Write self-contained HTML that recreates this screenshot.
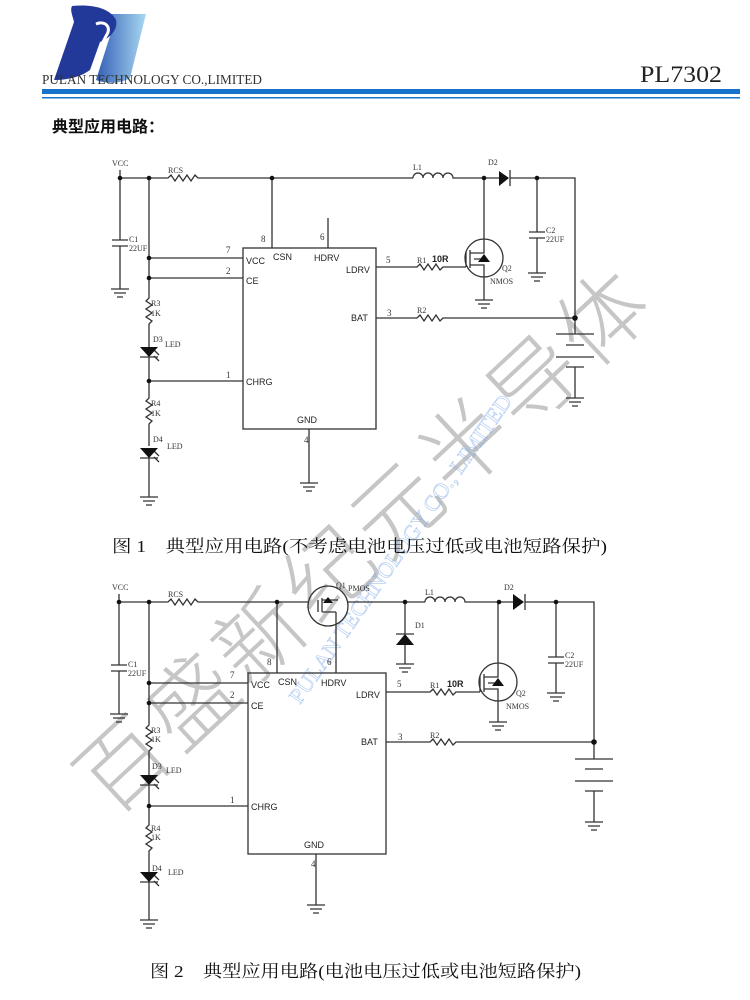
<!DOCTYPE html>
<html><head><meta charset="utf-8"><style>
html,body{margin:0;padding:0;background:#fff;}
body{width:750px;height:1000px;position:relative;overflow:hidden;}
svg{position:absolute;left:0;top:0;}
</style></head><body>
<svg width="750" height="1000" viewBox="0 0 750 1000" xmlns="http://www.w3.org/2000/svg">
<defs>
<linearGradient id="lg" x1="0" y1="0" x2="1" y2="0"><stop offset="0" stop-color="#2a55b0"/><stop offset="1" stop-color="#a8d8f2"/></linearGradient>
</defs>
<path d="M92,14 L146,14 L130,78 C120,84 106,84 96,80 L110,36 Z" fill="url(#lg)"/>
<path d="M72,6 C92,4 110,8 116,20 C118,30 110,38 100,42 L90,70 C82,76 70,80 54,80 L74,22 C72,14 70,10 72,6 Z" fill="#23399a"/>
<path d="M96,24 C106,20 112,28 106,36 L100,48" stroke="#fff" stroke-width="3" fill="none"/>
<text x="42" y="84" font-family="Liberation Serif,serif" font-size="14" fill="#333" textLength="220" lengthAdjust="spacingAndGlyphs">PULAN TECHNOLOGY CO.,LIMITED</text>
<text x="640" y="82" font-family="Liberation Serif,serif" font-size="23" fill="#222" textLength="82" lengthAdjust="spacingAndGlyphs">PL7302</text>
<rect x="42" y="89" width="698" height="5" fill="#1673c9"/>
<rect x="42" y="97" width="698" height="1.5" fill="#1673c9"/>
<text x="52" y="132" font-family="Liberation Sans,'Noto Sans CJK SC',sans-serif" font-size="16" font-weight="bold" fill="#111">典型应用电路：</text>

<g transform="translate(112,818) rotate(-43)">
<text x="0" y="0" font-family="'Noto Sans CJK SC',sans-serif" font-size="88" font-weight="300" fill="#c6c6c6" letter-spacing="-4" textLength="740" lengthAdjust="spacing">百盛新纪元半导体</text>
</g>
<g transform="translate(300,705) rotate(-55)" opacity="0.55">
<text x="0" y="0" font-family="Liberation Serif,serif" font-size="22" fill="none" stroke="#7aa5e6" stroke-width="0.7">PULAN TECHNOLOGY CO., LIMITED</text>
</g>

<g stroke="#333" stroke-width="1.3" fill="none" font-family="Liberation Serif,serif">
<path d="M120,178 H168 l3,-3 l4,6 l4,-6 l4,6 l4,-6 l4,6 l4,-6 l3,3 H413"/>
<path d="M413,178 a5,5 0 0 1 10,0 a5,5 0 0 1 10,0 a5,5 0 0 1 10,0 a5,5 0 0 1 10,0 H499"/>
<path d="M510,178 H575 V334"/>
<path d="M120,170 V240 M120,246 V289 M112,240 H128 M112,246 H128"/>
<path d="M111,289 H129 M114,293 H126 M117,297 H123"/>
<path d="M149,178 V298 l-3,3 l6,4 l-6,4 l6,4 l-6,4 l6,4 l-3,3 V347 M149,357 V398 l-3,3 l6,4 l-6,4 l6,4 l-6,4 l6,4 l-3,3 V446 M149,458 V497"/>
<path d="M140,497 H158 M143,501 H155 M146,505 H152"/>
<path d="M140,357 H158 M140,458 H158"/>
<path d="M154,350 l5,5 M154,356 l5,5 M154,451 l5,5 M154,457 l5,5"/>
<path d="M149,258 H243 M149,278 H243 M149,381 H243"/>
<rect x="243" y="248" width="133" height="181"/>
<path d="M272,178 V248 M328,218 V248 M309,429 V483"/>
<path d="M300,483 H318 M303,487 H315 M306,491 H312"/>
<path d="M376,267 H417 l3,-3 l4,6 l4,-6 l4,6 l4,-6 l4,6 l3,-3 H466"/>
<circle cx="484" cy="258" r="19"/>
<path d="M466,267 V252 M470,250 V268 M470,253 H484 V178 M470,265 H484 V300 M474,259 H484"/>
<path d="M475,300 H493 M478,304 H490 M481,308 H487"/>
<path d="M376,318 H417 l3,-3 l4,6 l4,-6 l4,6 l4,-6 l4,6 l3,-3 H575"/>
<path d="M556,334 H594 M566,345 H584 M556,357 H594 M566,367 H584 M575,367 V398 M566,398 H584 M569,402 H581 M572,406 H578"/>
<path d="M537,178 V232 M537,238 V273 M529,232 H545 M529,238 H545 M528,273 H546 M531,277 H543 M534,281 H540"/>
<path d="M510,170 V186"/>

<path d="M119,602 H168 l3,-3 l4,6 l4,-6 l4,6 l4,-6 l4,6 l4,-6 l3,3 H308 M348,602 H425"/>
<path d="M425,602 a5,5 0 0 1 10,0 a5,5 0 0 1 10,0 a5,5 0 0 1 10,0 a5,5 0 0 1 10,0 H513"/>
<path d="M525,602 H594 V759"/>
<circle cx="328" cy="606" r="20"/>
<path d="M318,600 V612 M322,598 V612 M322,600 H338 M336,612 V673 M322,612 H336"/>
<path d="M119,594 V665 M119,671 V714 M111,665 H127 M111,671 H127 M110,714 H128 M113,718 H125 M116,722 H122"/>
<path d="M149,602 V725 l-3,3 l6,4 l-6,4 l6,4 l-6,4 l6,4 l-3,3 V775 M149,785 V825 l-3,3 l6,4 l-6,4 l6,4 l-6,4 l6,4 l-3,3 V872 M149,882 V920"/>
<path d="M140,920 H158 M143,924 H155 M146,928 H152 M140,785 H158 M140,882 H158"/>
<path d="M154,778 l5,5 M154,784 l5,5 M154,875 l5,5 M154,881 l5,5"/>
<path d="M149,683 H248 M149,703 H248 M149,806 H248"/>
<rect x="248" y="673" width="138" height="181"/>
<path d="M277,602 V673 M316,854 V905 M307,905 H325 M310,909 H322 M313,913 H319"/>
<path d="M405,602 V634 M396,634 H414 M405,645 V664 M396,664 H414 M399,668 H411 M402,672 H408"/>
<path d="M386,692 H430 l3,-3 l4,6 l4,-6 l4,6 l4,-6 l4,6 l3,-3 H480"/>
<circle cx="498" cy="682" r="19"/>
<path d="M480,692 V676 M484,674 V692 M484,677 H498 V602 M484,689 H498 V722 M488,683 H498"/>
<path d="M489,722 H507 M492,726 H504 M495,730 H501"/>
<path d="M386,742 H430 l3,-3 l4,6 l4,-6 l4,6 l4,-6 l4,6 l3,-3 H594"/>
<path d="M575,759 H613 M585,769 H603 M575,781 H613 M585,791 H603 M594,791 V822 M585,822 H603 M588,826 H600 M591,830 H597"/>
<path d="M556,602 V657 M556,663 V693 M548,657 H564 M548,663 H564 M547,693 H565 M550,697 H562 M553,701 H559"/>
<path d="M525,594 V610"/>
</g>

<g fill="#111" stroke="none">
<polygon points="499,171 499,186 509,178"/>
<polygon points="140,347 158,347 149,357"/>
<polygon points="140,448 158,448 149,458"/>
<polygon points="513,594 513,610 524,602"/>
<polygon points="396,645 414,645 405,634"/>
<polygon points="140,775 158,775 149,785"/>
<polygon points="140,872 158,872 149,882"/>
<polygon points="328,597 333,603 323,603"/>
<polygon points="484,254 490,262 478,262"/>
<polygon points="498,678 504,686 492,686"/>
<circle cx="120" cy="178" r="2.3"/><circle cx="149" cy="178" r="2.3"/><circle cx="272" cy="178" r="2.3"/><circle cx="484" cy="178" r="2.3"/><circle cx="537" cy="178" r="2.3"/>
<circle cx="149" cy="258" r="2.3"/><circle cx="149" cy="278" r="2.3"/><circle cx="149" cy="381" r="2.3"/><circle cx="575" cy="318" r="2.8"/>
<circle cx="119" cy="602" r="2.3"/><circle cx="149" cy="602" r="2.3"/><circle cx="277" cy="602" r="2.3"/><circle cx="405" cy="602" r="2.3"/><circle cx="499" cy="602" r="2.3"/><circle cx="556" cy="602" r="2.3"/>
<circle cx="149" cy="683" r="2.3"/><circle cx="149" cy="703" r="2.3"/><circle cx="149" cy="806" r="2.3"/><circle cx="594" cy="742" r="2.8"/>
</g>

<g font-family="Liberation Serif,serif" font-size="8" fill="#333">
<text x="112" y="166">VCC</text><text x="168" y="173">RCS</text><text x="413" y="170">L1</text><text x="488" y="165">D2</text>
<text x="129" y="242">C1</text><text x="129" y="251">22UF</text><text x="546" y="233">C2</text><text x="546" y="242">22UF</text>
<text x="151" y="306">R3</text><text x="151" y="316">1K</text><text x="153" y="342">D3</text><text x="165" y="347">LED</text>
<text x="151" y="406">R4</text><text x="151" y="416">1K</text><text x="153" y="442">D4</text><text x="167" y="449">LED</text>
<text x="417" y="263">R1</text><text x="502" y="271">Q2</text><text x="490" y="284">NMOS</text><text x="417" y="313">R2</text>
<text x="112" y="590">VCC</text><text x="168" y="597">RCS</text><text x="336" y="588">Q1</text><text x="348" y="591">PMOS</text><text x="425" y="595">L1</text><text x="504" y="590">D2</text>
<text x="415" y="628">D1</text><text x="128" y="667">C1</text><text x="128" y="676">22UF</text><text x="565" y="658">C2</text><text x="565" y="667">22UF</text>
<text x="151" y="733">R3</text><text x="151" y="742">1K</text><text x="152" y="769">D3</text><text x="166" y="773">LED</text>
<text x="151" y="831">R4</text><text x="151" y="840">1K</text><text x="152" y="871">D4</text><text x="168" y="875">LED</text>
<text x="430" y="688">R1</text><text x="516" y="696">Q2</text><text x="506" y="709">NMOS</text><text x="430" y="738">R2</text>
</g>
<g font-family="Liberation Serif,serif" font-size="9" fill="#333">
<text x="226" y="253">7</text><text x="226" y="274">2</text><text x="226" y="378">1</text><text x="261" y="242">8</text><text x="320" y="240">6</text>
<text x="386" y="263">5</text><text x="387" y="316">3</text><text x="304" y="443">4</text>
<text x="230" y="678">7</text><text x="230" y="698">2</text><text x="230" y="803">1</text><text x="267" y="665">8</text><text x="327" y="665">6</text>
<text x="397" y="687">5</text><text x="398" y="740">3</text><text x="311" y="867">4</text>
</g>
<g font-family="Liberation Sans,sans-serif" font-size="9" fill="#222">
<text x="246" y="264">VCC</text><text x="273" y="260">CSN</text><text x="314" y="261">HDRV</text><text x="346" y="273">LDRV</text>
<text x="246" y="284">CE</text><text x="351" y="321">BAT</text><text x="246" y="385">CHRG</text><text x="297" y="423">GND</text>
<text x="432" y="262" font-weight="bold">10R</text>
<text x="251" y="688">VCC</text><text x="278" y="685">CSN</text><text x="321" y="686">HDRV</text><text x="356" y="698">LDRV</text>
<text x="251" y="709">CE</text><text x="361" y="745">BAT</text><text x="251" y="810">CHRG</text><text x="304" y="848">GND</text>
<text x="447" y="687" font-weight="bold">10R</text>
</g>

<g font-family="Liberation Serif,'Noto Serif CJK SC',serif" font-size="17" fill="#111">
<text x="112" y="552" textLength="495" lengthAdjust="spacingAndGlyphs">图 1　典型应用电路(不考虑电池电压过低或电池短路保护)</text>
<text x="150" y="977" textLength="431" lengthAdjust="spacingAndGlyphs">图 2　典型应用电路(电池电压过低或电池短路保护)</text>
</g>
</svg>
</body></html>
